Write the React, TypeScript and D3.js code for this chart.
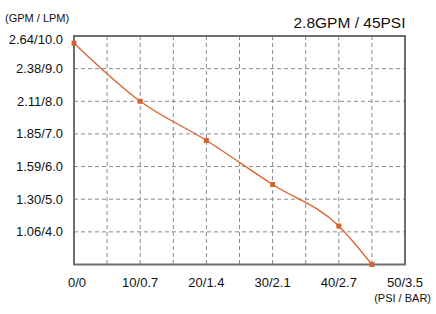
import React from "react";
import * as d3 from "d3";

const psi = [0, 10, 20, 30, 40, 45];
const lpm = [9.78, 8.0, 6.8, 5.45, 4.18, 3.0];
const xTickValues = [0, 10, 20, 30, 40, 50];
const xTickLabels = ["0/0", "10/0.7", "20/1.4", "30/2.1", "40/2.7", "50/3.5"];
const yTickValues = [4, 5, 6, 7, 8, 9, 10];
const yTickLabels = ["1.06/4.0", "1.30/5.0", "1.59/6.0", "1.85/7.0", "2.11/8.0", "2.38/9.0", "2.64/10.0"];
const xGrid = [5, 10, 15, 20, 25, 30, 35, 40, 45];
const yGrid = [4, 5, 6, 7, 8, 9];

const W = 436, H = 314;
const L = 74, R = 405, T = 36, B = 264.5;
const FONT = "'Liberation Sans', Arial, sans-serif";
const ORANGE = "#d8622c";

export default function App() {
  const x = d3.scaleLinear().domain([0, 50]).range([L, R]);
  const y = d3.scaleLinear().domain([3, 10]).range([B, T]);
  const line = d3
    .line<number>()
    .x((_, i) => x(psi[i]))
    .y((d) => y(d))
    .curve(d3.curveMonotoneX);

  return (
    <svg width={W} height={H} style={{ position: "absolute", left: 0, top: 0, background: "#fff" }} fontFamily={FONT}>
      <rect width={W} height={H} fill="#fff" />
      {xGrid.map((v) => (
        <line key={"xg" + v} x1={x(v)} x2={x(v)} y1={T} y2={B} stroke="#8a8a8a" strokeWidth={1} strokeDasharray="4,3" />
      ))}
      {yGrid.map((v) => (
        <line key={"yg" + v} x1={L} x2={R} y1={y(v)} y2={y(v)} stroke="#8a8a8a" strokeWidth={1} strokeDasharray="4,3" />
      ))}
      <rect x={L} y={T} width={R - L} height={B - T} fill="none" stroke="#6e6e6e" strokeWidth={2} />
      <path d={line(lpm) || ""} fill="none" stroke={ORANGE} strokeWidth={1.3} />
      {lpm.map((v, i) => (
        <rect key={"m" + i} x={x(psi[i]) - 2.5} y={y(v) - 2.5} width={5} height={5} fill={ORANGE} />
      ))}
      {yTickValues.map((v, i) => (
        <text key={"yt" + v} x={63} y={Math.max(y(v), T + 3)} dy="0.35em" textAnchor="end" fontSize={13} fill="#111">
          {yTickLabels[i]}
        </text>
      ))}
      {xTickValues.map((v, i) => (
        <text key={"xt" + v} x={x(v) + (i === 0 ? 3 : 0)} y={282} dy="0.35em" textAnchor="middle" fontSize={13} fill="#111">
          {xTickLabels[i]}
        </text>
      ))}
      <text x={5} y={18} dy="0.35em" fontSize={11} fill="#111">(GPM / LPM)</text>
      <text x={405.5} y={23} dy="0.35em" textAnchor="end" fontSize={15.5} fill="#111">2.8GPM / 45PSI</text>
      <text x={431} y={298} dy="0.35em" textAnchor="end" fontSize={11} fill="#111">(PSI / BAR)</text>
    </svg>
  );
}
